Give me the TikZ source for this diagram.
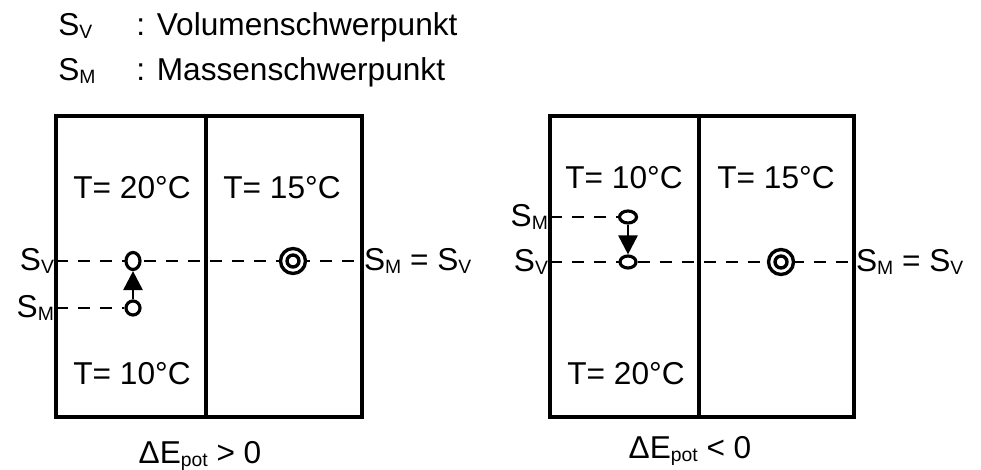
\documentclass[tikz,border=0pt]{standalone}
\usepackage{fontspec}
\setmainfont{Liberation Sans}
\usetikzlibrary{arrows.meta,shapes.geometric}
\newcommand{\idx}[1]{\raisebox{-0.2ex}{\fontsize{11}{11}\selectfont #1}}

\begin{document}
\begin{tikzpicture}[x=0.02cm, y=-0.02cm,
  every node/.style={font=\fontsize{18}{21}\selectfont},
  wand/.style={line width=2pt},
  strich/.style={line width=1.6pt, dash pattern=on 0.24cm off 0.2cm},
  punkt/.style={ellipse, draw, line width=1.8pt, fill=white, inner sep=0pt},
  zentrum/.style={circle, draw, line width=1.9pt, fill=white, inner sep=0pt, minimum size=0.5cm,
    path picture={\draw[line width=1.9pt] (path picture bounding box.center) circle (0.12cm);}},
  pfeil/.style={line width=1.6pt, -{Triangle[width=0.38cm,length=0.38cm]}},
  legende/.style={anchor=base west, inner sep=0pt},
  seite/.style={inner sep=1pt}]
        \useasboundingbox (0,0) rectangle (981,470);
        % Legende
        \node[legende] (svLeg) at (58,35) {S\idx{V}};
        \node[legende] (svLegText) at (136,35) {: Volumenschwerpunkt};
        \node[legende] (smLeg) at (58,80) {S\idx{M}};
        \node[legende] (smLegText) at (136,80) {: Massenschwerpunkt};

        % linker Behaelter
        \draw[wand] (56,116) rectangle (362,417);
        \draw[wand] (206,116) -- (206,417);
        \node[anchor=base] (tObenA) at (132,198) {T= 20°C};
        \node[anchor=base] (tRechtsA) at (282,198) {T= 15°C};
        \node[anchor=base] (tUntenA) at (132,384) {T= 10°C};
        \node[seite, anchor=east] (svLabelA) at (56,261) {S\idx{V}};
        \node[seite, anchor=east] (smLabelA) at (56,308) {S\idx{M}};
        \node[seite, anchor=west] (gleichA) at (362,261) {S\idx{M} = S\idx{V}};
        \draw[strich] (svLabelA.east) -- (gleichA.west);
        \node[punkt, minimum width=0.28cm, minimum height=0.34cm] (svA) at (133,261) {};
        \node[punkt, minimum width=0.28cm, minimum height=0.28cm] (smA) at (133,308) {};
        \node[zentrum] (mitteA) at (293,261) {};
        \draw[strich] (smLabelA.east) -- (smA.west);
        \draw[pfeil] (smA.north) -- (svA.south);
        \node[anchor=base] (deltaA) at (200,463) {ΔE\idx{pot} > 0};

        % rechter Behaelter
        \draw[wand] (550,116) rectangle (854,417);
        \draw[wand] (699,116) -- (699,417);
        \node[anchor=base] (tObenB) at (624,188) {T= 10°C};
        \node[anchor=base] (tRechtsB) at (776,188) {T= 15°C};
        \node[anchor=base] (tUntenB) at (626,384) {T= 20°C};
        \node[seite, anchor=east] (smLabelB) at (550,217) {S\idx{M}};
        \node[seite, anchor=east] (svLabelB) at (550,262) {S\idx{V}};
        \node[seite, anchor=west] (gleichB) at (854,262) {S\idx{M} = S\idx{V}};
        \draw[strich] (svLabelB.east) -- (gleichB.west);
        \node[punkt, minimum width=0.34cm, minimum height=0.24cm] (smB) at (628,217) {};
        \node[punkt, minimum width=0.32cm, minimum height=0.24cm] (svB) at (628,262) {};
        \node[zentrum] (mitteB) at (781,262) {};
        \draw[strich] (smLabelB.east) -- (smB.west);
        \draw[pfeil] (smB.south) -- (svB.north);
        \node[anchor=base] (deltaB) at (690,458) {ΔE\idx{pot} < 0};
\end{tikzpicture}
\end{document}
